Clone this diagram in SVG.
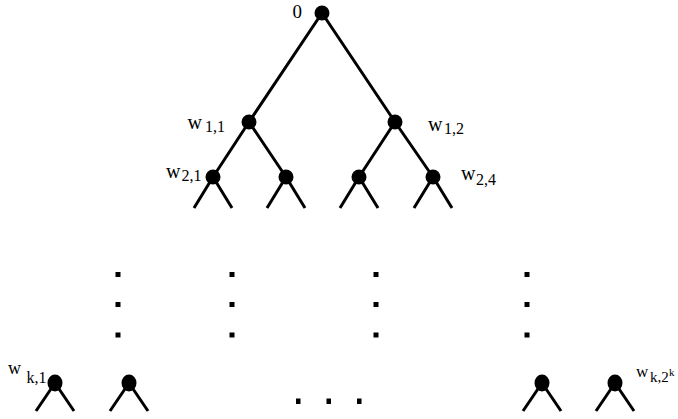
<svg xmlns="http://www.w3.org/2000/svg" width="678" height="419" viewBox="0 0 678 419">
<style>
.e{stroke:#000;stroke-width:3;fill:none;stroke-linecap:butt}
.n{fill:#000}
.t{font-family:"Liberation Serif","Times New Roman",serif;fill:#000}
.d{fill:#000}
</style>
<rect width="678" height="419" fill="#fff"/>
<g id="connectors">
<path class="e" d="M322,13L249,122M322,13L395,122"/>
<path class="e" d="M249,122L213,177M249,122L286,177M395,122L359,177M395,122L433,177"/>
<path class="e" d="M213,177L194,208M213,177L232,208M286,177L267,208M286,177L305,208M359,177L340,208M359,177L378,208M433,177L414,208M433,177L452,208"/>
<path class="e" d="M55,383L36,411M55,383L74,411M129,383L110,411M129,383L148,411M542,383L523,411M542,383L561,411M615,383L596,411M615,383L634,411"/>
</g>
<g id="n0"><circle class="n" cx="322" cy="13" r="7.5"/><text class="t" x="292.5" y="17.5" font-size="19">0</text></g>
<g id="n11"><circle class="n" cx="249" cy="122" r="7.5"/><text class="t" x="187.5" y="128.5" font-size="20">w<tspan x="205" y="132" font-size="16">1,1</tspan></text></g>
<g id="n12"><circle class="n" cx="395" cy="122" r="7.5"/><text class="t" x="428" y="130.5" font-size="20">w<tspan x="444" y="134" font-size="16">1,2</tspan></text></g>
<g id="n21"><circle class="n" cx="213" cy="177" r="7.5"/><text class="t" x="166" y="178" font-size="20">w<tspan x="181.5" y="181" font-size="16">2,1</tspan></text></g>
<g id="n22"><circle class="n" cx="286" cy="177" r="7.5"/></g>
<g id="n23"><circle class="n" cx="359" cy="177" r="7.5"/></g>
<g id="n24"><circle class="n" cx="433" cy="177" r="7.5"/><text class="t" x="461" y="179.5" font-size="20">w<tspan x="476" y="185" font-size="16">2,4</tspan></text></g>
<g id="nk1"><ellipse class="n" cx="55" cy="383" rx="7.5" ry="8.5"/><text class="t" x="8" y="374" font-size="18">w<tspan x="26.5" y="383" font-size="16">k,1</tspan></text></g>
<g id="nk2"><ellipse class="n" cx="129" cy="383" rx="7.5" ry="8.5"/></g>
<g id="nk3"><ellipse class="n" cx="542" cy="383" rx="7.5" ry="8.5"/></g>
<g id="nk4"><ellipse class="n" cx="615" cy="383" rx="7.5" ry="8.5"/><text class="t" x="636" y="377" font-size="17">w<tspan x="650" y="381.5" font-size="15">k,2</tspan><tspan x="669" y="375.5" font-size="11">k</tspan></text></g>
<g id="dots">
<rect class="d" x="115.5" y="272" width="5" height="5"/><rect class="d" x="115.5" y="302" width="5" height="5"/><rect class="d" x="115.5" y="332.5" width="5" height="5"/>
<rect class="d" x="229.5" y="272" width="5" height="5"/><rect class="d" x="229.5" y="302" width="5" height="5"/><rect class="d" x="229.5" y="332.5" width="5" height="5"/>
<rect class="d" x="373.5" y="272" width="5" height="5"/><rect class="d" x="373.5" y="302" width="5" height="5"/><rect class="d" x="373.5" y="332.5" width="5" height="5"/>
<rect class="d" x="524.5" y="272" width="5" height="5"/><rect class="d" x="524.5" y="302" width="5" height="5"/><rect class="d" x="524.5" y="332.5" width="5" height="5"/>
<rect class="d" x="296" y="398.5" width="4.5" height="5.5"/><rect class="d" x="326.5" y="398.5" width="4.5" height="5.5"/><rect class="d" x="357" y="398.5" width="4.5" height="5.5"/>
</g>
</svg>
